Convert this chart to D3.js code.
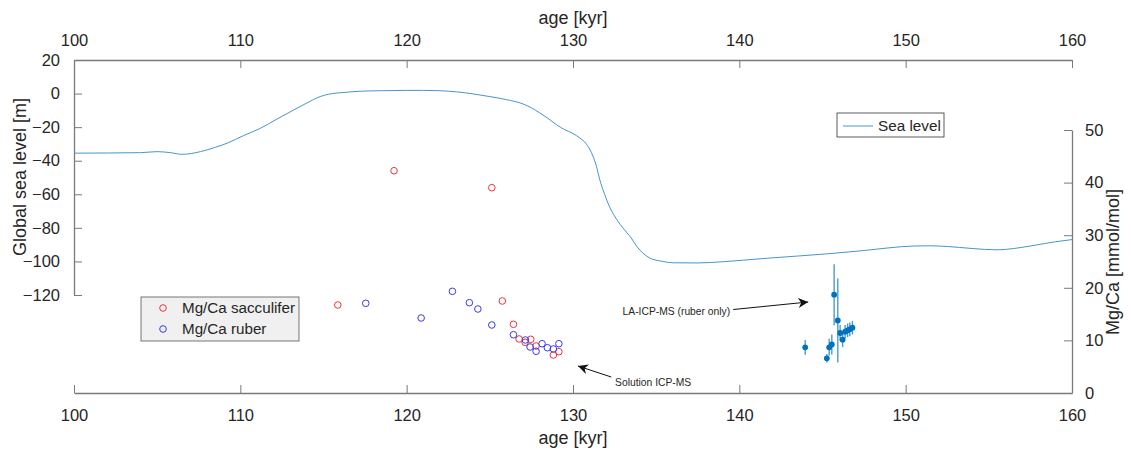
<!DOCTYPE html>
<html><head><meta charset="utf-8">
<script src="https://cdn.jsdelivr.net/npm/d3@7"></script>
<style>body{margin:0;background:#fff}svg{display:block}text{font-family:"Liberation Sans",Arial,sans-serif;fill:#262626}</style>
</head><body><svg id="c" width="1131" height="452"></svg>
<script>
// ---- data ----
const seaAge = [100,102,104,105,105.8,106.5,107.6,108.5,109.2,110.2,111.2,112.2,113.2,114,114.8,115.3,115.8,116.5,117.2,118.5,120,121,122,123,124,125,126,127,127.5,128,128.5,129,129.5,130,130.4,130.8,131.1,131.4,131.6,131.9,132.2,132.7,133.25,133.5,133.85,134.2,134.6,135.4,136,137.5,139,141.4,143.5,145.5,147.5,149,150.5,151.5,152.5,154,155.5,156.5,157.5,159,160];
const seaLevel = [-35.5,-35.4,-35.2,-34.6,-35.2,-36.2,-34.6,-32,-29.6,-25,-20.7,-15.2,-9.8,-5.6,-1.8,-0.4,0.3,0.9,1.4,1.7,1.9,1.9,1.7,1.0,-0.2,-1.8,-3.6,-6.2,-8.5,-11.5,-14.8,-18.5,-21.5,-23.8,-26.4,-30,-35,-43,-51,-60,-67.5,-76,-83,-86,-91.3,-95,-97.9,-100,-100.8,-100.9,-100.2,-98.3,-96.8,-95.3,-93.5,-91.9,-90.8,-90.7,-91.1,-92.3,-93.1,-92.3,-90.8,-88.3,-87];
const saccAge = [119.24,125.12,115.86,125.75,126.42,126.76,127.12,127.46,127.78,128.82,129.15];
const saccMgCa = [42.26,39.03,16.73,17.49,13.06,10.27,9.64,10.21,8.94,7.22,7.85];
const ruberAge = [117.54,120.87,122.75,123.77,124.28,125.12,126.42,127.14,127.42,127.78,128.14,128.46,128.82,129.15];
const ruberMgCa = [17.05,14.26,19.33,17.17,15.97,12.93,11.08,10.08,8.75,7.93,9.37,8.61,8.37,9.37];
const laAge = [143.96,145.26,145.40,145.56,145.70,145.92,146.06,146.21,146.36,146.51,146.64,146.80];
const laMgCa = [8.69,6.60,8.69,9.22,18.69,13.78,11.41,10.13,11.65,11.92,12.11,12.41];
const laErr = [1.4,0.8,1.6,1.9,5.8,8.0,1.5,1.4,1.3,1.3,1.3,1.3];
const xTicks = [100,110,120,130,140,150,160];
const yLeftTicks = [20,0,-20,-40,-60,-80,-100,-120];
const yRightTicks = [0,10,20,30,40,50];

// ---- scales ----
const svg = d3.select("#c");
const x = d3.scaleLinear().domain([100,160]).range([74,1072]);
const yL = d3.scaleLinear().domain([-120,20]).range([295,60]);
const yR = d3.scaleLinear().domain([0,50]).range([393,130]);
const AX = "#7a7a7a", TS = 16.5;

function styleAxis(g){
  g.selectAll(".domain").attr("stroke",AX).attr("stroke-width",1.3);
  g.selectAll(".tick line").attr("stroke",AX).attr("stroke-width",1);
  g.selectAll(".tick text").style("font-size",TS+"px").attr("fill","#262626");
}
svg.append("g").attr("transform","translate(0,60)")
  .call(d3.axisTop(x).tickValues(xTicks).tickSizeInner(-8).tickSizeOuter(0).tickPadding(14))
  .call(styleAxis);
svg.append("g").attr("transform","translate(0,393)")
  .call(d3.axisBottom(x).tickValues(xTicks).tickSizeInner(-8).tickSizeOuter(0).tickPadding(16))
  .call(styleAxis);
svg.append("g").attr("transform","translate(74,0)")
  .call(d3.axisLeft(yL).tickValues(yLeftTicks).tickSizeInner(-8).tickSizeOuter(0).tickPadding(14))
  .call(styleAxis);
svg.append("g").attr("transform","translate(1072,0)")
  .call(d3.axisRight(yR).tickValues(yRightTicks).tickSizeInner(-8).tickSizeOuter(0).tickPadding(13))
  .call(styleAxis);

// axis labels
svg.append("text").attr("x",573).attr("y",24).attr("text-anchor","middle").style("font-size","18px").text("age [kyr]");
svg.append("text").attr("x",573).attr("y",444).attr("text-anchor","middle").style("font-size","18px").text("age [kyr]");
svg.append("text").attr("transform","translate(26,177) rotate(-90)").attr("text-anchor","middle").style("font-size","18px").text("Global sea level [m]");
svg.append("text").attr("transform","translate(1119,262) rotate(-90)").attr("text-anchor","middle").style("font-size","18px").text("Mg/Ca [mmol/mol]");

// sea level line
const SEA = "#4796c9";
const seaData = seaAge.map((a,i)=>[a,seaLevel[i]]);
svg.append("path").datum(seaData)
  .attr("d",d3.line().x(d=>x(d[0])).y(d=>yL(d[1])).curve(d3.curveMonotoneX))
  .attr("fill","none").attr("stroke",SEA).attr("stroke-width",1);

// scatter circles
const SACC = "#e8363c", RUB = "#3a3ae6";
svg.append("g").selectAll("circle").data(saccAge.map((a,i)=>[a,saccMgCa[i]])).join("circle")
  .attr("cx",d=>x(d[0])).attr("cy",d=>yR(d[1])).attr("r",3.3)
  .attr("fill","none").attr("stroke",SACC).attr("stroke-width",1);
svg.append("g").selectAll("circle").data(ruberAge.map((a,i)=>[a,ruberMgCa[i]])).join("circle")
  .attr("cx",d=>x(d[0])).attr("cy",d=>yR(d[1])).attr("r",3.3)
  .attr("fill","none").attr("stroke",RUB).attr("stroke-width",1);

// LA-ICP-MS error bars
const la = laAge.map((a,i)=>({a, v:laMgCa[i], e:laErr[i]}));
const eg = svg.append("g");
eg.selectAll("line").data(la).join("line")
  .attr("x1",d=>x(d.a)).attr("x2",d=>x(d.a))
  .attr("y1",d=>yR(d.v-d.e)).attr("y2",d=>yR(d.v+d.e))
  .attr("stroke","#4a9bd0").attr("stroke-width",1.4);
eg.selectAll("circle").data(la).join("circle")
  .attr("cx",d=>x(d.a)).attr("cy",d=>yR(d.v)).attr("r",2.9).attr("fill","#0072bd");

// annotations
const defs = svg.append("defs");
defs.append("marker").attr("id","ah").attr("viewBox","0 0 10 10").attr("refX",10).attr("refY",5)
  .attr("markerWidth",10).attr("markerHeight",10).attr("markerUnits","userSpaceOnUse").attr("orient","auto")
  .append("path").attr("d","M0,0 L10,5 L0,10 L3,5 Z").attr("fill","#111");
const annos = [
  {text:"Solution ICP-MS", tx:132.53, ty:1.33, anchor:"start", x1:132.3, y1:3.04, x2:130.3, y2:5.13},
  {text:"LA-ICP-MS (ruber only)", tx:139.45, ty:14.83, anchor:"end", x1:139.63, y1:15.87, x2:144.14, y2:17.3}
];
annos.forEach(a=>{
  svg.append("line").attr("x1",x(a.x1)).attr("y1",yR(a.y1)).attr("x2",x(a.x2)).attr("y2",yR(a.y2))
    .attr("stroke","#111").attr("stroke-width",1).attr("marker-end","url(#ah)");
  svg.append("text").attr("x",x(a.tx)).attr("y",yR(a.ty)).attr("text-anchor",a.anchor)
    .style("font-size","10.3px").text(a.text);
});

// legends
const lg1 = svg.append("g");
lg1.append("rect").attr("x",837).attr("y",113).attr("width",107).attr("height",24).attr("fill","#fff").attr("stroke","#333").attr("stroke-width",0.8);
lg1.append("line").attr("x1",843).attr("x2",873).attr("y1",126).attr("y2",126).attr("stroke",SEA).attr("stroke-width",1);
lg1.append("text").attr("x",878).attr("y",131).style("font-size","15.3px").text("Sea level");

const lg2 = svg.append("g");
lg2.append("rect").attr("x",141).attr("y",297).attr("width",158).attr("height",44).attr("fill","#f0f0f0").attr("stroke","#555").attr("stroke-width",0.8);
[["Mg/Ca sacculifer",SACC,308],["Mg/Ca ruber",RUB,329]].forEach(([t,c,yy])=>{
  lg2.append("circle").attr("cx",163).attr("cy",yy).attr("r",3.3).attr("fill","none").attr("stroke",c).attr("stroke-width",1);
  lg2.append("text").attr("x",182).attr("y",yy+5).style("font-size","15.2px").text(t);
});
</script></body></html>
